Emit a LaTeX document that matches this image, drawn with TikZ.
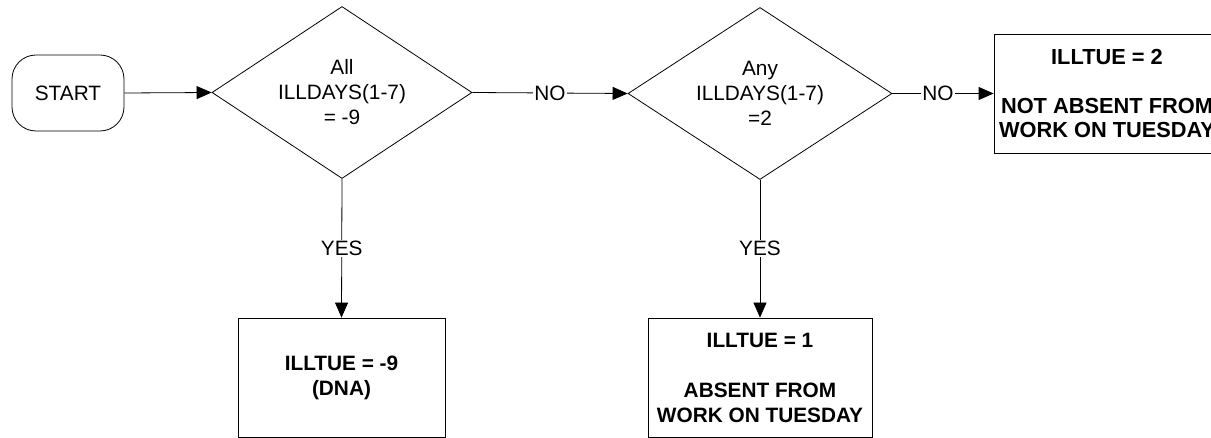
\documentclass[tikz,border=0pt]{standalone}
\usepackage{fontspec}
\setmainfont{Liberation Sans}
\usetikzlibrary{shapes.geometric,arrows.meta}
\begin{document}
\begin{tikzpicture}[x=1pt,y=1pt,
  every node/.style={font=\fontsize{20.8}{25}\selectfont},
  decision/.style={draw,diamond,line width=0.8pt,inner sep=0pt,minimum width=#1,minimum height=172pt,align=center,aspect=1.5},
  procbox/.style={draw,rectangle,line width=0.8pt,inner sep=0pt,align=center,font=\fontsize{20.8}{25}\selectfont\bfseries},
  termbox/.style={draw,rectangle,rounded corners=24pt,line width=0.8pt,minimum width=112pt,minimum height=76pt,inner sep=0pt},
  conn/.style={line width=0.8pt,-{Triangle[length=15pt,width=13pt]}},
  lbl/.style={fill=white,inner sep=1pt}]
\useasboundingbox (0,0) rectangle (1211,-438);
\node[termbox] (start) at (68,-93) {START};
\node[decision=260pt] (d1) at (342,-92.5) {All\\ILLDAYS(1-7)\\= -9};
\node[decision=264pt] (d2) at (760,-93.5) {Any\\ILLDAYS(1-7)\\=2};
\node[procbox,minimum width=207pt,minimum height=119pt] (b9) at (341.5,-377.5) {ILLTUE = -9\\(DNA)};
\node[procbox,minimum width=224pt,minimum height=119pt] (b1) at (760,-377.5) {ILLTUE = 1\\[25pt]ABSENT FROM\\WORK ON TUESDAY};
\node[procbox,minimum width=226pt,minimum height=119pt,font=\fontsize{21.8}{24.3}\selectfont\bfseries] (b2) at (1107,-93.5) {ILLTUE = 2\\[24.3pt]NOT ABSENT FROM\\WORK ON TUESDAY};
\draw[conn] (start.east) -- (d1.west);
\draw[conn] (d1.east) -- node[lbl,pos=0.5] {NO} (d2.west);
\draw[conn] (d2.east) -- node[lbl,pos=0.45] {NO} (b2.west);
\draw[conn] (d1.south) -- node[lbl,pos=0.5] {YES} (b9.north);
\draw[conn] (d2.south) -- node[lbl,pos=0.5] {YES} (b1.north);
\end{tikzpicture}
\end{document}
